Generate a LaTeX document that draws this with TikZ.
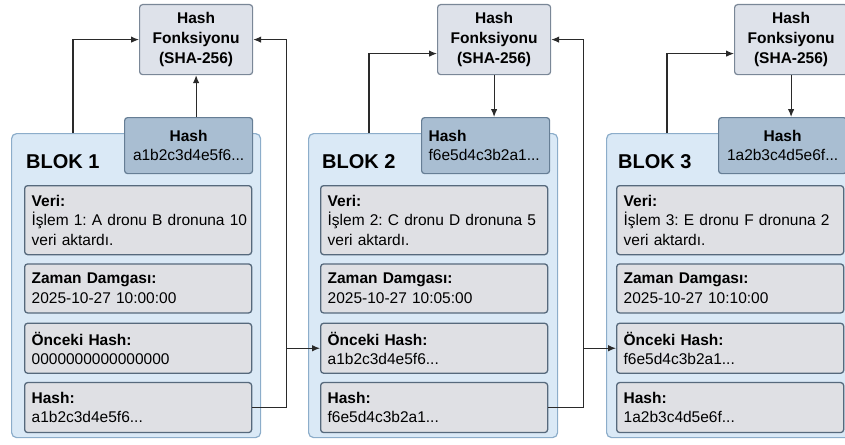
\documentclass[tikz,border=0pt]{standalone}
\usepackage{fontspec}
\setmainfont{Liberation Sans}
\usetikzlibrary{positioning,arrows.meta,calc}
\tikzset{>={Latex[length=8pt,width=6.5pt]}}
\definecolor{blockfill}{HTML}{DAE9F6}
\definecolor{blockline}{HTML}{8CADCA}
\definecolor{fieldfill}{HTML}{DFE0E4}
\definecolor{fieldline}{HTML}{56697C}
\definecolor{tabfill}{HTML}{A9BED2}
\definecolor{tabline}{HTML}{667E95}
\definecolor{fnfill}{HTML}{DEE2EA}
\definecolor{fnline}{HTML}{7A8797}
\definecolor{wirecol}{HTML}{2A2A2A}

\begin{document}
\begin{tikzpicture}[x=1pt, y=-1pt,
  block/.style={draw=blockline, fill=blockfill, line width=1.2pt, rounded corners=5pt,
    anchor=north west, minimum width=249pt, minimum height=304pt, inner sep=0pt},
  title/.style={anchor=base west, inner sep=0pt, font=\fontsize{20}{24}\selectfont\bfseries},
  tab/.style={draw=tabline, fill=tabfill, line width=1.2pt, rounded corners=3pt,
    anchor=north west, minimum width=128pt, minimum height=56pt, inner sep=0pt,
    align=center, font=\fontsize{15.5}{19}\selectfont},
  fn/.style={draw=fnline, fill=fnfill, line width=1.2pt, rounded corners=3pt,
    anchor=north west, minimum width=113pt, minimum height=70pt, inner sep=0pt,
    align=center, font=\fontsize{15.5}{20}\selectfont\bfseries},
  field/.style={draw=fieldline, fill=fieldfill, line width=1.3pt, rounded corners=3pt,
    anchor=north west, text width=213pt, inner xsep=7pt, inner ysep=0pt,
    minimum height=#1, align=left, font=\fontsize{15.5}{19.5}\selectfont\frenchspacing},
  wire/.style={draw=wirecol, line width=1.1pt}]
  \clip (0,0) rectangle (845,444);

  % blok 1
  \node[block] (blk1) at (11,133) {};
  \node[title] (t1) at (26,168) {BLOK 1};
  \node[tab] (tab1) at (124,117) {\textbf{Hash}\\a1b2c3d4e5f6...};
  \node[fn] (fn1) at (139,4) {Hash\\Fonksiyonu\\(SHA-256)};
  \node[field=69pt] (v1) at (24,185) {\textbf{Veri:}\\\mbox{İşlem 1: A dronu B dronuna 10}\\veri aktardı.};
  \node[field=49pt, below=8pt of v1] (z1) {\textbf{Zaman Damgası:}\\2025-10-27 10:00:00};
  \node[field=50pt, below=9pt of z1] (p1) {\textbf{Önceki Hash:}\\0000000000000000};
  \node[field=50pt, below=8pt of p1] (h1) {\textbf{Hash:}\\a1b2c3d4e5f6...};

  % blok 2
  \node[block] (blk2) at (308,133) {};
  \node[title] (t2) at (322,168) {BLOK 2};
  \node[tab, text width=114pt, inner xsep=7pt, align=left] (tab2) at (421,117) {\textbf{Hash}\\f6e5d4c3b2a1...};
  \node[fn] (fn2) at (437,4) {Hash\\Fonksiyonu\\(SHA-256)};
  \node[field=69pt] (v2) at (320,185) {\textbf{Veri:}\\\mbox{İşlem 2: C dronu D dronuna 5}\\veri aktardı.};
  \node[field=49pt, below=8pt of v2] (z2) {\textbf{Zaman Damgası:}\\2025-10-27 10:05:00};
  \node[field=50pt, below=9pt of z2] (p2) {\textbf{Önceki Hash:}\\a1b2c3d4e5f6...};
  \node[field=50pt, below=8pt of p2] (h2) {\textbf{Hash:}\\f6e5d4c3b2a1...};

  % blok 3
  \node[block] (blk3) at (606,133) {};
  \node[title] (t3) at (618,168) {BLOK 3};
  \node[tab] (tab3) at (718,117) {\textbf{Hash}\\1a2b3c4d5e6f...};
  \node[fn] (fn3) at (734,4) {Hash\\Fonksiyonu\\(SHA-256)};
  \node[field=69pt] (v3) at (616,185) {\textbf{Veri:}\\\mbox{İşlem 3: E dronu F dronuna 2}\\veri aktardı.};
  \node[field=49pt, below=8pt of v3] (z3) {\textbf{Zaman Damgası:}\\2025-10-27 10:10:00};
  \node[field=50pt, below=9pt of z3] (p3) {\textbf{Önceki Hash:}\\f6e5d4c3b2a1...};
  \node[field=50pt, below=8pt of p3] (h3) {\textbf{Hash:}\\1a2b3c4d5e6f...};

  % baglantilar
  \draw[wire,->] (blk1.north west) ++(62,0) |- (fn1.west);
  \draw[wire,->] (tab1.north -| fn1.south) -- (fn1.south);
  \draw[wire,->] (h1.east) -- ++(34,0) |- (fn1.east);
  \draw[wire,->] (h1.east) ++(34,0) |- (p2.west);

  \draw[wire,->] (blk2.north west) ++(61,0) |- ($(fn2.west)+(0,14)$);
  \draw[wire,->] (fn2.south) -- (fn2.south |- tab2.north);
  \draw[wire,->] (h2.east) -- ++(35,0) |- (fn2.east);
  \draw[wire,->] (h2.east) ++(35,0) |- (p3.west);

  \draw[wire,->] (blk3.north west) ++(61,0) |- ($(fn3.west)+(0,14)$);
  \draw[wire,->] (fn3.south) -- (fn3.south |- tab3.north);
\end{tikzpicture}
\end{document}
